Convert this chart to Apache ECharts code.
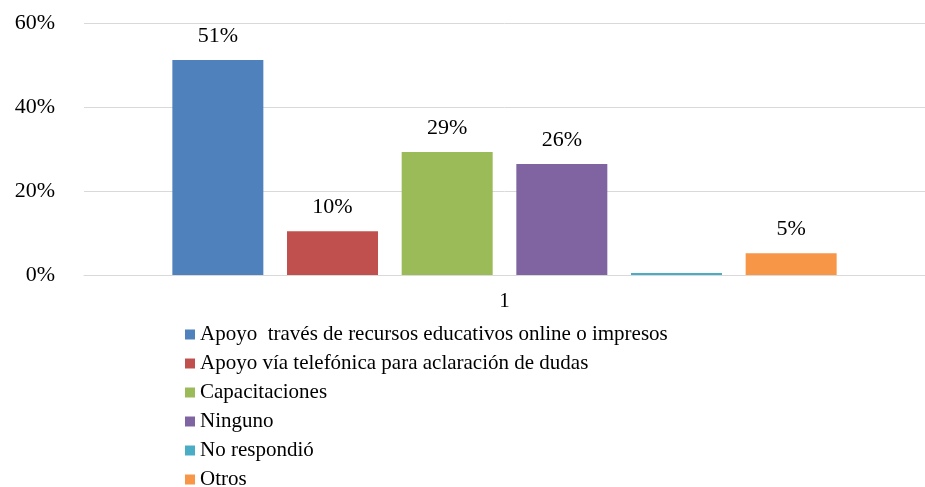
<!DOCTYPE html>
<html>
<head>
<meta charset="utf-8">
<script src="https://cdn.jsdelivr.net/npm/echarts@6/dist/echarts.min.js"></script>
<style>
  html, body { margin: 0; padding: 0; background: #fff; }
  #chart { width: 925px; height: 487px; }
</style>
</head>
<body>
<div id="chart"></div>
<script>
// datos
const categories = ['1']
const seriesNames = [
    'Apoyo  través de recursos educativos online o impresos',
    'Apoyo vía telefónica para aclaración de dudas',
    'Capacitaciones',
    'Ninguno',
    'No respondió',
    'Otros',
]
const seriesValues = [0.512, 0.104, 0.293, 0.264, 0.005, 0.052]
const showLabel = [true, true, true, true, false, true]
const colors = ['#4F81BD', '#C0504D', '#9BBB59', '#8064A2', '#4BACC6', '#F79646']
const yTicks = { min: 0, max: 0.6, interval: 0.2 }

const font = 'Liberation Serif, Times New Roman, serif'
const chart = echarts.init(document.getElementById('chart'))

const series = seriesNames.map((name, i) => ({
    name: name,
    type: 'bar',
    data: [seriesValues[i]],
    barWidth: 91,
    barGap: '26%',
    itemStyle: { color: colors[i] },
    label: {
        show: showLabel[i],
        position: 'top',
        distance: 13,
        color: '#000',
        fontFamily: font,
        fontSize: 22,
        formatter: (p) => Math.round(p.value * 100) + '%',
    },
}))

chart.setOption({
    animation: false,
    color: colors,
    grid: { left: 84, right: 0, top: 23, bottom: 212 },
    legend: {
        orient: 'vertical',
        left: 180,
        top: 319,
        height: 170,
        itemWidth: 10,
        itemHeight: 10,
        itemGap: 8,
        icon: 'rect',
        textStyle: { fontFamily: font, fontSize: 21, color: '#000' },
        data: seriesNames,
    },
    xAxis: {
        type: 'category',
        data: categories,
        axisLine: { lineStyle: { color: '#D9D9D9', width: 1 } },
        axisTick: { show: false },
        axisLabel: { color: '#000', fontFamily: font, fontSize: 21, margin: 16 },
    },
    yAxis: {
        type: 'value',
        min: yTicks.min,
        max: yTicks.max,
        interval: yTicks.interval,
        axisLine: { show: false },
        axisTick: { show: false },
        splitLine: { lineStyle: { color: '#D9D9D9', width: 1 } },
        axisLabel: {
            color: '#000',
            fontFamily: font,
            fontSize: 22,
            margin: 29,
            formatter: (v) => Math.round(v * 100) + '%',
        },
    },
    series: series,
})
</script>
</body>
</html>
